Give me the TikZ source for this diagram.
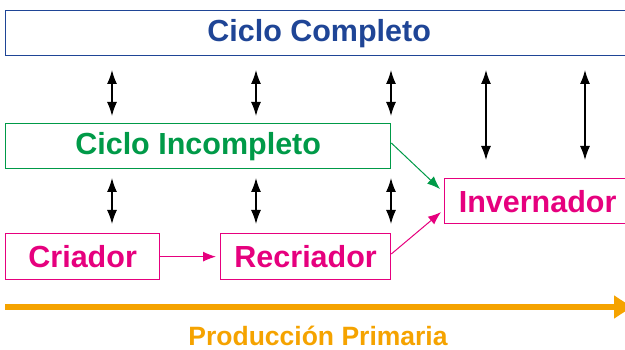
\documentclass[tikz,border=0pt]{standalone}
\usepackage{fontspec}
\setmainfont{Liberation Sans}
\usetikzlibrary{arrows.meta}
\definecolor{cblue}{HTML}{1F4596}
\definecolor{cgreen}{HTML}{009A48}
\definecolor{cpink}{HTML}{E6007E}
\definecolor{corange}{HTML}{F5A300}
\tikzset{
  box/.style={draw, line width=1.3pt, anchor=north west, inner sep=0pt, font=\fontsize{30.5}{32}\selectfont\bfseries},
  dbl/.style={{Latex[length=14pt,width=10pt]}-{Latex[length=14pt,width=10pt]}, line width=1.3pt, black},
  flow/.style={-{Latex[length=13pt,width=10pt]}, line width=1pt},
}
\begin{document}
\begin{tikzpicture}[x=1pt,y=-1pt]
\useasboundingbox (0,0) rectangle (625,350);
\clip (0,0) rectangle (625,350);
\node[box, cblue, minimum width=627pt, minimum height=45pt] (cc) at (5,10) {Ciclo Completo};
\node[box, cgreen, minimum width=385pt, minimum height=45pt] (ci) at (5,123) {Ciclo Incompleto};
\node[box, cpink, minimum width=186pt, minimum height=45pt] (inv) at (444,178) {Invernador};
\node[box, cpink, minimum width=154pt, minimum height=46pt] (cri) at (5,233) {Criador};
\node[box, cpink, minimum width=170pt, minimum height=46pt] (rec) at (220,233) {Recriador};
% double arrow ends
\coordinate (a1t) at (112,70); \coordinate (a1b) at (112,116);
\coordinate (a2t) at (256,70); \coordinate (a2b) at (256,116);
\coordinate (a3t) at (391,70); \coordinate (a3b) at (391,116);
\coordinate (a4t) at (486,70); \coordinate (a4b) at (486,160);
\coordinate (a5t) at (585,70); \coordinate (a5b) at (585,160);
\coordinate (b1t) at (112,178); \coordinate (b1b) at (112,224);
\coordinate (b2t) at (256,178); \coordinate (b2b) at (256,224);
\coordinate (b3t) at (391,178); \coordinate (b3b) at (391,224);
\foreach \n in {a1,a2,a3,a4,a5,b1,b2,b3}{\draw[dbl] (\n t) -- (\n b);}
% flows
\draw[flow, cpink] (cri.east) -- ([xshift=-4pt]rec.west);
\draw[flow, cpink] (rec.east |- 0,254) -- ([xshift=-3pt,yshift=-11pt]inv.west);
\draw[flow, cgreen] (ci.east |- 0,143) -- ([xshift=-4pt,yshift=-11pt]inv.north west);
% production axis
\coordinate (ps) at (5,307); \coordinate (pe) at (632,307);
\draw[corange, line width=6pt, -{Triangle[length=18pt,width=22pt]}] (ps) -- (pe);
\node[corange, inner sep=0pt, font=\fontsize{26.5}{28}\selectfont\bfseries] (pp) at (318,336) {Producción Primaria};
\end{tikzpicture}
\end{document}
